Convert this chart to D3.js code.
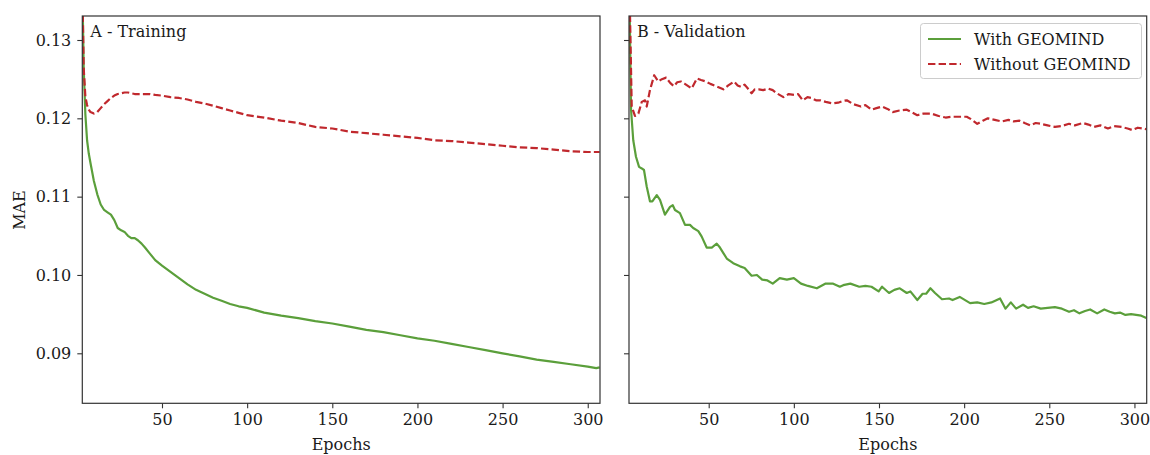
<!DOCTYPE html>
<html>
<head>
<meta charset="utf-8">
<script src="https://cdn.jsdelivr.net/npm/d3@7"></script>
<style>
  html, body { margin: 0; padding: 0; background: #fff; }
  svg { display: block; }
  text { font-family: "DejaVu Serif", serif; fill: #1a1a1a; }
</style>
</head>
<body>
<svg id="chart" width="1150" height="455"></svg>
<script>
// ---------------- DATA ----------------
const xTicks = [50, 100, 150, 200, 250, 300];
const yTicks = [0.09, 0.10, 0.11, 0.12, 0.13];
const yTickLabels = ["0.09", "0.10", "0.11", "0.12", "0.13"];
const seriesNames = ["With GEOMIND", "Without GEOMIND"];
const panelTitles = ["A - Training", "B - Validation"];

const trainEpochs = [3, 4, 5, 6, 7, 8, 10, 12, 14, 16, 18, 20, 22, 24, 26, 28, 30, 32, 34, 36, 38, 40, 43, 46, 50, 55, 60, 65, 70, 75, 80, 85, 90, 95, 100, 110, 120, 130, 140, 150, 160, 170, 180, 190, 200, 210, 220, 230, 240, 250, 260, 270, 280, 290, 300, 305, 307];
const trainWith = [0.1400, 0.1265, 0.1205, 0.1172, 0.1155, 0.1143, 0.1120, 0.1103, 0.1090, 0.1083, 0.1080, 0.1077, 0.1070, 0.1060, 0.1057, 0.1055, 0.1050, 0.1047, 0.1047, 0.1044, 0.1040, 0.1035, 0.1027, 0.1019, 0.1012, 0.1004, 0.0996, 0.0988, 0.0981, 0.0976, 0.0971, 0.0967, 0.0963, 0.0960, 0.0958, 0.0952, 0.0948, 0.0945, 0.0941, 0.0938, 0.0934, 0.0930, 0.0927, 0.0923, 0.0919, 0.0916, 0.0912, 0.0908, 0.0904, 0.0900, 0.0896, 0.0892, 0.0889, 0.0886, 0.0883, 0.0881, 0.0882];
const trainWithout = [0.1400, 0.1265, 0.1228, 0.1217, 0.1211, 0.1208, 0.1206, 0.1208, 0.1213, 0.1218, 0.1222, 0.1226, 0.1229, 0.1231, 0.1232, 0.1233, 0.1233, 0.1232, 0.1231, 0.1231, 0.1231, 0.1231, 0.1231, 0.1230, 0.1229, 0.1227, 0.1226, 0.1224, 0.1221, 0.1219, 0.1216, 0.1213, 0.1210, 0.1207, 0.1204, 0.1201, 0.1197, 0.1194, 0.1189, 0.1187, 0.1183, 0.1181, 0.1179, 0.1177, 0.1175, 0.1172, 0.1171, 0.1169, 0.1167, 0.1165, 0.1163, 0.1162, 0.1160, 0.1158, 0.1157, 0.1157, 0.1157];

const valWithEpochs = [3.2, 4.4, 5.7, 7.3, 9.1, 10.7, 12, 13.6, 15.5, 16.9, 19.5, 21.4, 24.3, 27.3, 28.9, 30.2, 33.1, 36.1, 39, 40.9, 43.9, 45.9, 48.8, 51.8, 54.7, 56.6, 60.6, 64.4, 68.4, 71.1, 75.2, 78.3, 81.4, 84.5, 87.6, 91.7, 95.9, 100, 104.2, 108.3, 113.5, 118.7, 122.8, 127, 129, 133.2, 138.4, 142, 145.6, 149.8, 151.8, 155.9, 159, 162.2, 166.3, 168.4, 172.5, 175.6, 177.7, 180.2, 182.9, 187, 191.1, 193.2, 197.4, 203.5, 207.7, 211.8, 216, 221.1, 224.3, 227.4, 230.5, 234.6, 237.5, 240.8, 245, 249, 253.3, 257.4, 261.6, 264.5, 267.7, 271, 274, 278.1, 282.3, 285.5, 288.5, 291.5, 294.7, 298, 301, 304, 307];
const valWith = [0.1400, 0.1211, 0.1172, 0.1151, 0.1138, 0.1136, 0.1134, 0.1113, 0.1094, 0.1094, 0.1102, 0.1096, 0.1077, 0.1087, 0.1089, 0.1083, 0.1079, 0.1064, 0.1064, 0.1060, 0.1056, 0.1049, 0.1035, 0.1035, 0.1040, 0.1035, 0.1021, 0.1015, 0.1011, 0.1009, 0.0999, 0.1000, 0.0994, 0.0993, 0.0989, 0.0996, 0.0994, 0.0996, 0.0989, 0.0986, 0.0983, 0.0989, 0.0989, 0.0985, 0.0987, 0.0989, 0.0985, 0.0986, 0.0985, 0.0979, 0.0985, 0.0977, 0.0981, 0.0983, 0.0977, 0.0979, 0.0968, 0.0976, 0.0976, 0.0983, 0.0977, 0.0969, 0.0970, 0.0968, 0.0972, 0.0964, 0.0965, 0.0963, 0.0965, 0.0970, 0.0957, 0.0965, 0.0957, 0.0962, 0.0958, 0.0960, 0.0957, 0.0958, 0.0959, 0.0957, 0.0953, 0.0955, 0.0951, 0.0954, 0.0956, 0.0951, 0.0956, 0.0953, 0.0951, 0.0952, 0.0949, 0.0950, 0.0949, 0.0948, 0.0945];

const valWithoutEpochs = [3.2, 4.8, 6.7, 8.7, 10.7, 12.6, 13.6, 15.5, 18, 20.4, 22.5, 25, 27.5, 29.6, 31.5, 33.7, 36, 40, 43.1, 45.5, 48.3, 51, 54.5, 58.6, 61.5, 64.9, 67, 69, 71.1, 73, 75.2, 77, 79.4, 82, 85, 87.6, 90, 93.9, 97, 100.1, 102.5, 105.2, 108, 110.4, 113, 115.5, 118.7, 122.8, 126, 128.5, 131.1, 135, 139.4, 142, 145.6, 148.5, 151.8, 155, 158, 162, 166.3, 169, 172.5, 176, 180.8, 185, 189.1, 193, 197, 201.5, 204, 207.7, 211, 213.9, 218, 222.2, 226, 229, 232.5, 235.5, 238.8, 242, 245, 249, 253.3, 257, 261.6, 265, 269.8, 273, 276.1, 280, 284.4, 288, 292.6, 296, 298.8, 302, 305, 307];
const valWithout = [0.1400, 0.1215, 0.1203, 0.1206, 0.1221, 0.1223, 0.1215, 0.1236, 0.1255, 0.1247, 0.1250, 0.1252, 0.1245, 0.1241, 0.1246, 0.1247, 0.1244, 0.1238, 0.1251, 0.1249, 0.1247, 0.1244, 0.1241, 0.1237, 0.1242, 0.1247, 0.1242, 0.1240, 0.1243, 0.1238, 0.1232, 0.1237, 0.1237, 0.1236, 0.1238, 0.1236, 0.1232, 0.1227, 0.1231, 0.1230, 0.1231, 0.1223, 0.1227, 0.1226, 0.1223, 0.1223, 0.1221, 0.1219, 0.1220, 0.1222, 0.1223, 0.1218, 0.1215, 0.1217, 0.1211, 0.1213, 0.1215, 0.1212, 0.1208, 0.1210, 0.1211, 0.1208, 0.1204, 0.1206, 0.1206, 0.1203, 0.1201, 0.1202, 0.1202, 0.1202, 0.1199, 0.1193, 0.1197, 0.1200, 0.1198, 0.1196, 0.1198, 0.1196, 0.1197, 0.1194, 0.1191, 0.1194, 0.1193, 0.1191, 0.1189, 0.1190, 0.1193, 0.1191, 0.1194, 0.1192, 0.1189, 0.1191, 0.1187, 0.1190, 0.1189, 0.1187, 0.1185, 0.1188, 0.1187, 0.1186];

// ---------------- LAYOUT ----------------
const svg = d3.select("#chart");
const plotTop = 16, plotBottom = 403.3;
const panels = [
  { x0: 82.3, x1: 600, title: panelTitles[0], showYLabels: true,
    series: [{ ep: trainEpochs, v: trainWith }, { ep: trainEpochs, v: trainWithout }] },
  { x0: 629, x1: 1146.7, title: panelTitles[1], showYLabels: false,
    series: [{ ep: valWithEpochs, v: valWith }, { ep: valWithoutEpochs, v: valWithout }] }
];
const colors = ["#5b9f3b", "#c0282d"];
const dashes = [null, "7.4,3.2"];
const spineColor = "#333";

const y = d3.scaleLinear().domain([0.083616, 0.133064]).range([plotBottom, plotTop]);

panels.forEach((p, i) => {
  const x = d3.scaleLinear().domain([3.2, 307.2]).range([p.x0, p.x1]);
  const g = svg.append("g");
  const clipId = "clip" + i;
  svg.append("clipPath").attr("id", clipId).append("rect")
    .attr("x", p.x0).attr("y", plotTop).attr("width", p.x1 - p.x0).attr("height", plotBottom - plotTop);

  // lines
  const line = d3.line().x(d => x(d[0])).y(d => y(d[1]));
  p.series.forEach((s, k) => {
    const pts = s.ep.map((e, j) => [e, s.v[j]]);
    g.append("path").datum(pts)
      .attr("d", line)
      .attr("fill", "none")
      .attr("stroke", colors[k])
      .attr("stroke-width", 2.2)
      .attr("stroke-linejoin", "round")
      .attr("stroke-dasharray", dashes[k])
      .attr("clip-path", `url(#${clipId})`);
  });

  // axes
  const xAxis = d3.axisBottom(x).tickValues(xTicks).tickSize(5).tickPadding(5).tickFormat(d3.format("d"));
  const gx = g.append("g").attr("transform", `translate(0,${plotBottom})`).call(xAxis);
  const yAxis = d3.axisLeft(y).tickValues(yTicks).tickSize(5).tickPadding(6)
    .tickFormat((d, j) => p.showYLabels ? yTickLabels[j] : "");
  const gy = g.append("g").attr("transform", `translate(${p.x0},0)`).call(yAxis);
  [gx, gy].forEach(ax => {
    ax.select(".domain").remove();
    ax.selectAll(".tick line").attr("stroke", spineColor).attr("stroke-width", 1.1);
    ax.selectAll(".tick text").attr("font-size", "16px").attr("fill", "#1a1a1a")
      .style("font-family", "'DejaVu Serif', serif");
  });

  // frame
  g.append("rect").attr("x", p.x0).attr("y", plotTop)
    .attr("width", p.x1 - p.x0).attr("height", plotBottom - plotTop)
    .attr("fill", "none").attr("stroke", spineColor).attr("stroke-width", 1.2);

  // title
  g.append("text").attr("x", p.x0 + 8).attr("y", 37).attr("font-size", "16px").text(p.title);

  // x label
  g.append("text").attr("x", (p.x0 + p.x1) / 2).attr("y", 450)
    .attr("text-anchor", "middle").attr("font-size", "16px").text("Epochs");

  if (i === 1) {
    // legend
    const lg = g.append("g");
    lg.append("rect").attr("x", 920.5).attr("y", 23.5).attr("width", 221).attr("height", 55)
      .attr("rx", 3).attr("fill", "#fff").attr("fill-opacity", 0.8)
      .attr("stroke", "#cccccc").attr("stroke-width", 1);
    seriesNames.forEach((name, k) => {
      const cy = 39 + k * 25;
      lg.append("line").attr("x1", 928).attr("x2", 961).attr("y1", cy).attr("y2", cy)
        .attr("stroke", colors[k]).attr("stroke-width", 2.2).attr("stroke-dasharray", dashes[k]);
      lg.append("text").attr("x", 974).attr("y", cy + 5.5).attr("font-size", "16px").text(name);
    });
  }
});

// y label
svg.append("text").attr("transform", "translate(25,210) rotate(-90)")
  .attr("text-anchor", "middle").attr("font-size", "16px").text("MAE");
</script>
</body>
</html>
